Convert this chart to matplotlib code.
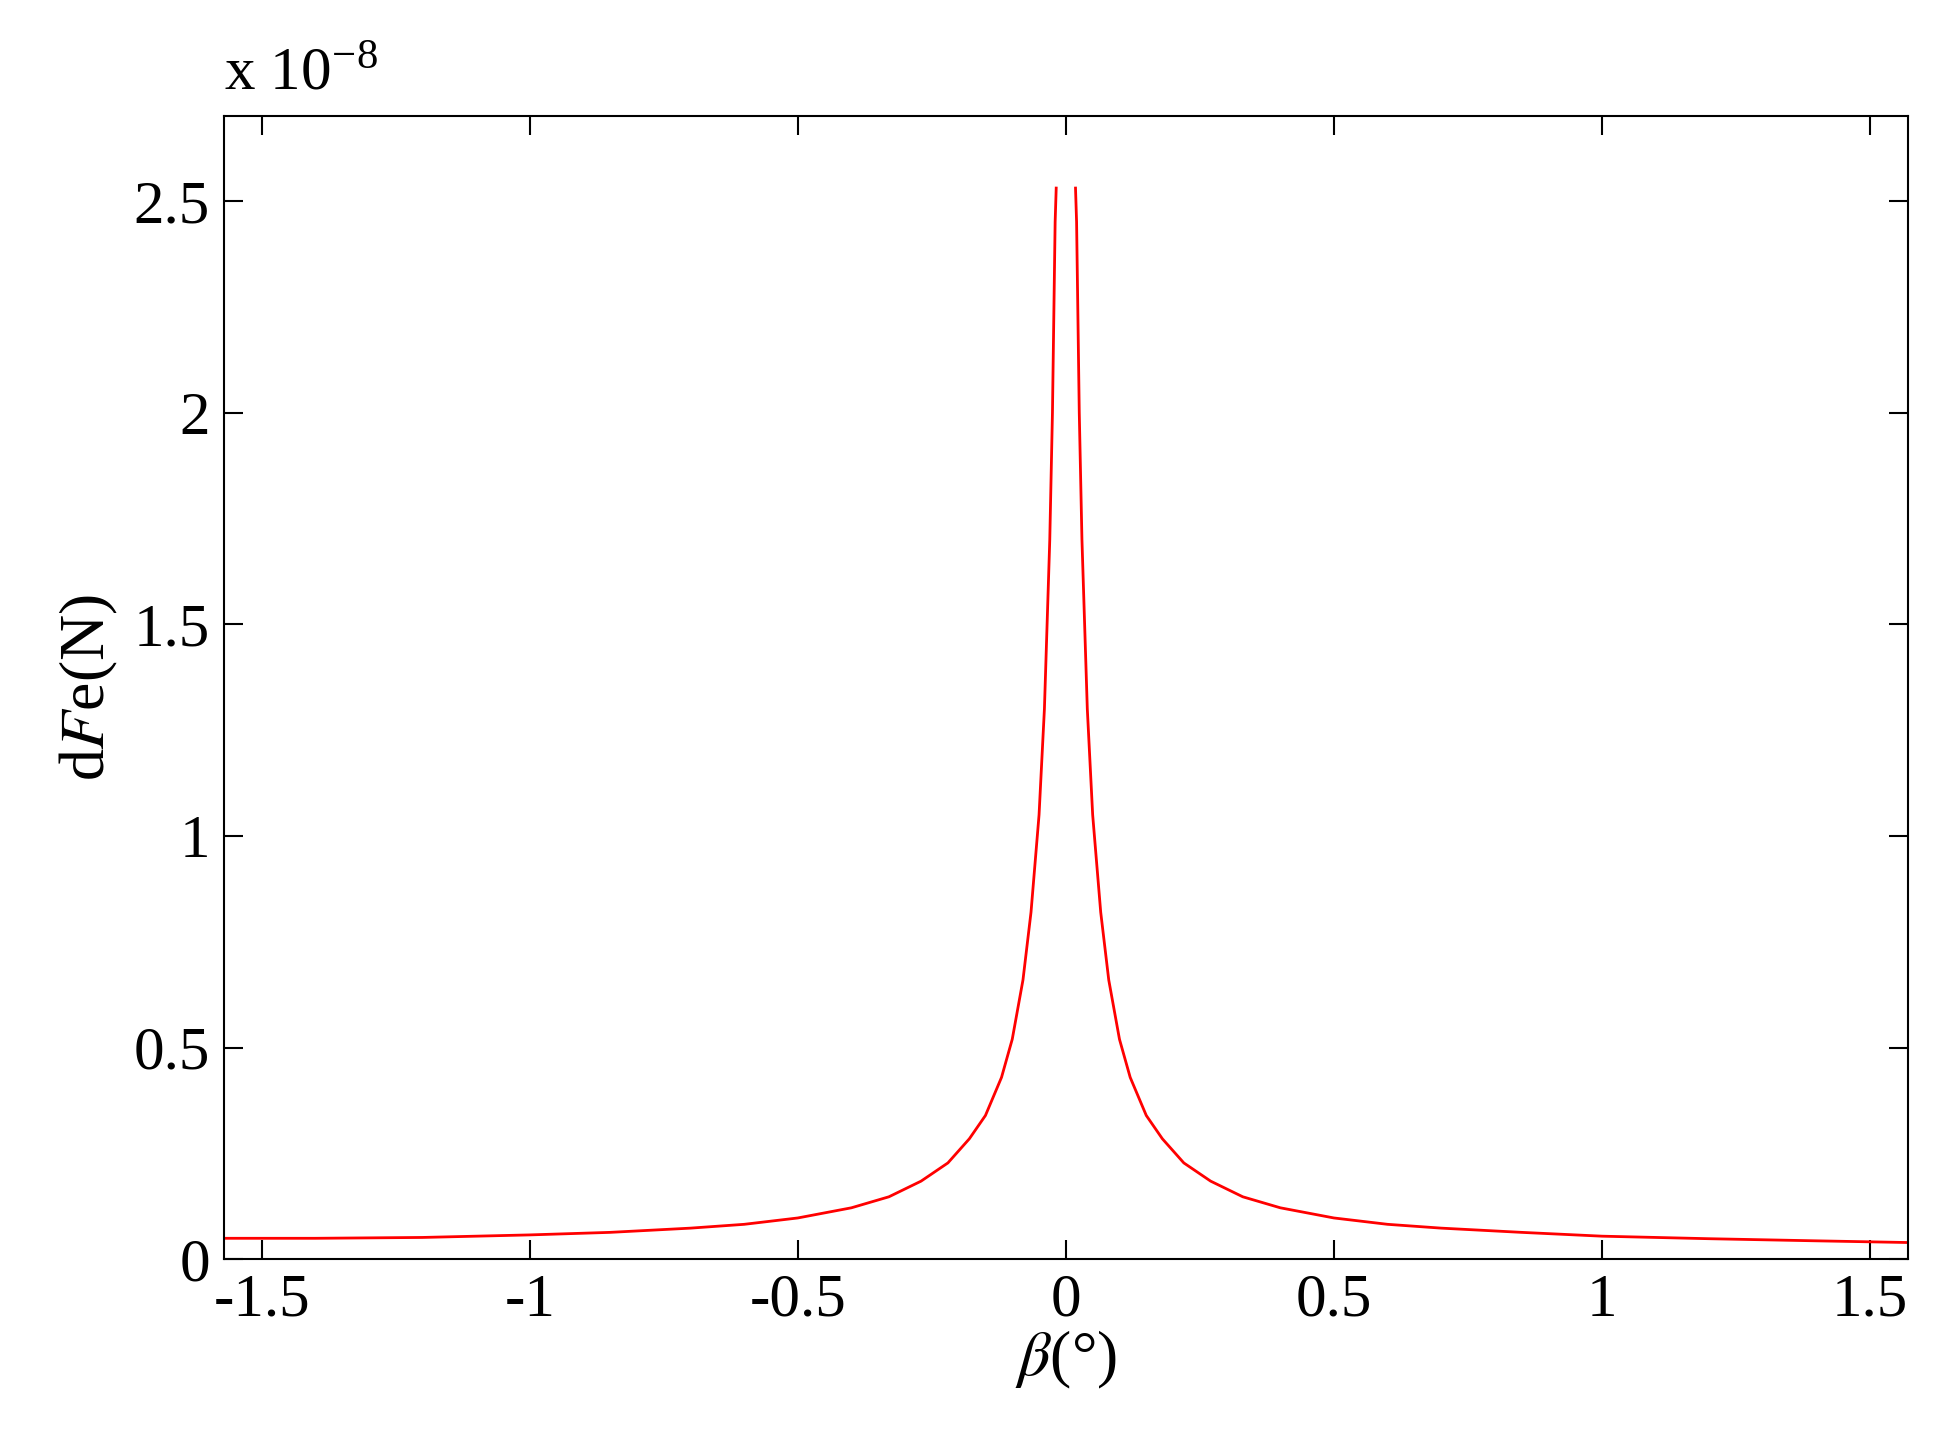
import numpy as np
import matplotlib.pyplot as plt

# beta (deg) and dFe (x 1e-8 N)
beta_left = [-1.5708, -1.4, -1.2, -1.0, -0.85, -0.7, -0.6, -0.5, -0.4, -0.33, -0.27,
             -0.22, -0.18, -0.15, -0.12, -0.1, -0.08, -0.065, -0.05, -0.04, -0.03,
             -0.025, -0.02, -0.018]
dfe_left = [0.05, 0.05, 0.052, 0.058, 0.064, 0.074, 0.083, 0.098, 0.122, 0.148, 0.185,
            0.228, 0.285, 0.34, 0.43, 0.52, 0.66, 0.82, 1.05, 1.3, 1.7,
            2.0, 2.45, 2.53]
beta_right = [0.018, 0.02, 0.025, 0.03, 0.04, 0.05, 0.065, 0.08, 0.1, 0.12, 0.15,
              0.18, 0.22, 0.27, 0.33, 0.4, 0.5, 0.6, 0.7, 0.85, 1.0, 1.2, 1.4, 1.5708]
dfe_right = [2.53, 2.45, 2.0, 1.7, 1.3, 1.05, 0.82, 0.66, 0.52, 0.43, 0.34,
             0.285, 0.228, 0.185, 0.148, 0.122, 0.098, 0.083, 0.074, 0.064, 0.055,
             0.049, 0.044, 0.04]

plt.rcParams['font.family'] = ['Liberation Serif', 'DejaVu Serif']
plt.rcParams['mathtext.fontset'] = 'stix'

fig = plt.figure(figsize=(19.45, 14.51), dpi=100)
ax = fig.add_axes([0.115, 0.132, 0.866, 0.788])

x = np.array(beta_left + [np.nan] + beta_right)
y = np.array(dfe_left + [np.nan] + dfe_right)
ax.plot(x, y, color='red', lw=2)

ax.set_xlim(-np.pi / 2, np.pi / 2)
ax.set_ylim(0, 2.7)
ax.set_xticks([-1.5, -1, -0.5, 0, 0.5, 1, 1.5])
ax.set_xticklabels(['-1.5', '-1', '-0.5', '0', '0.5', '1', '1.5'])
ax.set_yticks([0, 0.5, 1, 1.5, 2, 2.5])
ax.set_yticklabels(['0', '0.5', '1', '1.5', '2', '2.5'])
ax.tick_params(direction='in', top=True, right=True, length=14, width=1.5,
               labelsize=44, pad=10)
for s in ax.spines.values():
    s.set_linewidth(1.5)

ax.set_xlabel(r'$\beta$(°)', fontsize=46, labelpad=0)
ax.set_ylabel(r'd$F$e(N)', fontsize=46, labelpad=10)
ax.text(0.0, 1.012, r'x 10$^{\mathregular{-8}}$', transform=ax.transAxes,
        fontsize=44, ha='left', va='bottom')

fig.savefig('out.png', dpi=100)
